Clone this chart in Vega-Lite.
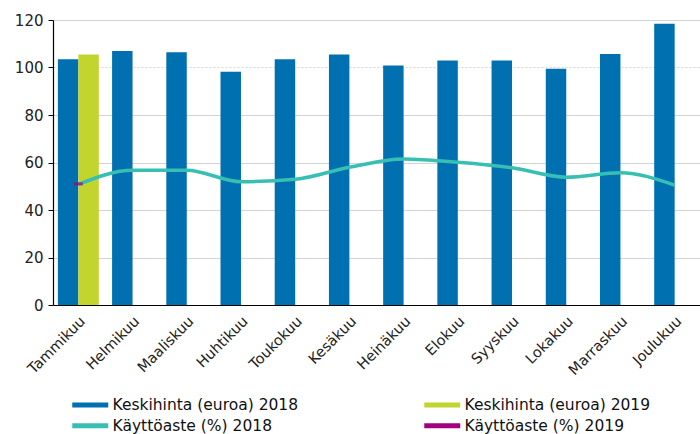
{
  "$schema": "https://vega.github.io/schema/vega-lite/v6.json",
  "width": 647,
  "height": 285,
  "autosize": {"type": "none"},
  "padding": {"left": 53, "top": 20, "right": 0, "bottom": 129},
  "background": "white",
  "config": {
    "font": "DejaVu Sans",
    "view": {"stroke": null}
  },
  "data": {
    "values": [
      {"kuukausi": "Tammikuu", "vuosi": "2018", "mittari": "hinta", "sarja": "Keskihinta (euroa) 2018", "arvo": 103.5},
      {"kuukausi": "Helmikuu", "vuosi": "2018", "mittari": "hinta", "sarja": "Keskihinta (euroa) 2018", "arvo": 107},
      {"kuukausi": "Maaliskuu", "vuosi": "2018", "mittari": "hinta", "sarja": "Keskihinta (euroa) 2018", "arvo": 106.4},
      {"kuukausi": "Huhtikuu", "vuosi": "2018", "mittari": "hinta", "sarja": "Keskihinta (euroa) 2018", "arvo": 98.2},
      {"kuukausi": "Toukokuu", "vuosi": "2018", "mittari": "hinta", "sarja": "Keskihinta (euroa) 2018", "arvo": 103.5},
      {"kuukausi": "Kesäkuu", "vuosi": "2018", "mittari": "hinta", "sarja": "Keskihinta (euroa) 2018", "arvo": 105.5},
      {"kuukausi": "Heinäkuu", "vuosi": "2018", "mittari": "hinta", "sarja": "Keskihinta (euroa) 2018", "arvo": 100.8},
      {"kuukausi": "Elokuu", "vuosi": "2018", "mittari": "hinta", "sarja": "Keskihinta (euroa) 2018", "arvo": 102.9},
      {"kuukausi": "Syyskuu", "vuosi": "2018", "mittari": "hinta", "sarja": "Keskihinta (euroa) 2018", "arvo": 102.9},
      {"kuukausi": "Lokakuu", "vuosi": "2018", "mittari": "hinta", "sarja": "Keskihinta (euroa) 2018", "arvo": 99.5},
      {"kuukausi": "Marraskuu", "vuosi": "2018", "mittari": "hinta", "sarja": "Keskihinta (euroa) 2018", "arvo": 105.7},
      {"kuukausi": "Joulukuu", "vuosi": "2018", "mittari": "hinta", "sarja": "Keskihinta (euroa) 2018", "arvo": 118.4},
      {"kuukausi": "Tammikuu", "vuosi": "2019", "mittari": "hinta", "sarja": "Keskihinta (euroa) 2019", "arvo": 105.5},
      {"kuukausi": "Tammikuu", "vuosi": "2018", "mittari": "kaytto", "sarja": "Käyttöaste (%) 2018", "arvo": 50.8},
      {"kuukausi": "Helmikuu", "vuosi": "2018", "mittari": "kaytto", "sarja": "Käyttöaste (%) 2018", "arvo": 56.7},
      {"kuukausi": "Maaliskuu", "vuosi": "2018", "mittari": "kaytto", "sarja": "Käyttöaste (%) 2018", "arvo": 56.7},
      {"kuukausi": "Huhtikuu", "vuosi": "2018", "mittari": "kaytto", "sarja": "Käyttöaste (%) 2018", "arvo": 51.9},
      {"kuukausi": "Toukokuu", "vuosi": "2018", "mittari": "kaytto", "sarja": "Käyttöaste (%) 2018", "arvo": 52.9},
      {"kuukausi": "Kesäkuu", "vuosi": "2018", "mittari": "kaytto", "sarja": "Käyttöaste (%) 2018", "arvo": 58},
      {"kuukausi": "Heinäkuu", "vuosi": "2018", "mittari": "kaytto", "sarja": "Käyttöaste (%) 2018", "arvo": 61.5},
      {"kuukausi": "Elokuu", "vuosi": "2018", "mittari": "kaytto", "sarja": "Käyttöaste (%) 2018", "arvo": 60.1},
      {"kuukausi": "Syyskuu", "vuosi": "2018", "mittari": "kaytto", "sarja": "Käyttöaste (%) 2018", "arvo": 57.8},
      {"kuukausi": "Lokakuu", "vuosi": "2018", "mittari": "kaytto", "sarja": "Käyttöaste (%) 2018", "arvo": 53.8},
      {"kuukausi": "Marraskuu", "vuosi": "2018", "mittari": "kaytto", "sarja": "Käyttöaste (%) 2018", "arvo": 55.7},
      {"kuukausi": "Joulukuu", "vuosi": "2018", "mittari": "kaytto", "sarja": "Käyttöaste (%) 2018", "arvo": 50.5},
      {"kuukausi": "Tammikuu", "vuosi": "2019", "mittari": "kaytto", "sarja": "Käyttöaste (%) 2019", "arvo": 51}
    ]
  },
  "encoding": {
    "x": {
      "field": "kuukausi",
      "type": "nominal",
      "sort": ["Tammikuu", "Helmikuu", "Maaliskuu", "Huhtikuu", "Toukokuu", "Kesäkuu", "Heinäkuu", "Elokuu", "Syyskuu", "Lokakuu", "Marraskuu", "Joulukuu"],
      "scale": {"paddingInner": 0.245, "paddingOuter": 0.09},
      "axis": {
        "title": null,
        "labelAngle": -45,
        "labelFontSize": 14.5,
        "labelColor": "#222",
        "ticks": false,
        "domainColor": "#000",
        "domainWidth": 1.2,
        "labelPadding": 9,
        "grid": false
      }
    },
    "y": {
      "field": "arvo",
      "type": "quantitative",
      "scale": {"domain": [0, 120], "nice": false},
      "axis": {
        "title": null,
        "values": [0, 20, 40, 60, 80, 100, 120],
        "labelFontSize": 15,
        "labelColor": "#222",
        "tickColor": "#000",
        "tickSize": 5,
        "domainColor": "#000",
        "domainWidth": 1.2,
        "labelPadding": 5,
        "gridColor": "#d4d4d4",
        "gridDash": {"condition": {"test": "datum.value === 100", "value": [2, 2]}, "value": []}
      }
    },
    "color": {
      "field": "sarja",
      "type": "nominal",
      "scale": {
        "domain": ["Keskihinta (euroa) 2018", "Keskihinta (euroa) 2019", "Käyttöaste (%) 2018", "Käyttöaste (%) 2019"],
        "range": ["#0070b0", "#c2d52f", "#37bfb3", "#a2007e"]
      },
      "legend": {
        "title": null,
        "orient": "none",
        "direction": "horizontal",
        "legendX": 29.5,
        "legendY": 377,
        "columns": 2,
        "columnPadding": 115,
        "rowPadding": 0,
        "symbolType": "M-4,0L4,0",
        "symbolSize": 81,
        "symbolStrokeWidth": 5,
        "labelFontSize": 15.5,
        "labelLimit": 400,
        "labelColor": "#111",
        "labelOffset": 14.5,
        "encode": {
          "symbols": {
            "update": {
              "stroke": {"scale": "color", "field": "value"},
              "fill": {"value": "transparent"},
              "strokeWidth": {"value": 5}
            }
          }
        }
      }
    }
  },
  "layer": [
    {
      "transform": [{"filter": "datum.mittari === 'hinta'"}],
      "mark": {"type": "bar"},
      "encoding": {
        "xOffset": {"field": "vuosi", "type": "nominal", "scale": {"domain": ["2018", "2019"], "paddingInner": 0}}
      }
    },
    {
      "transform": [{"filter": "datum.sarja === 'Käyttöaste (%) 2018'"}],
      "mark": {"type": "line", "interpolate": "monotone", "strokeWidth": 3.5}
    },
    {
      "transform": [{"filter": "datum.sarja === 'Käyttöaste (%) 2019'"}],
      "mark": {"type": "tick", "size": 9, "thickness": 3, "orient": "horizontal"}
    }
  ]
}
